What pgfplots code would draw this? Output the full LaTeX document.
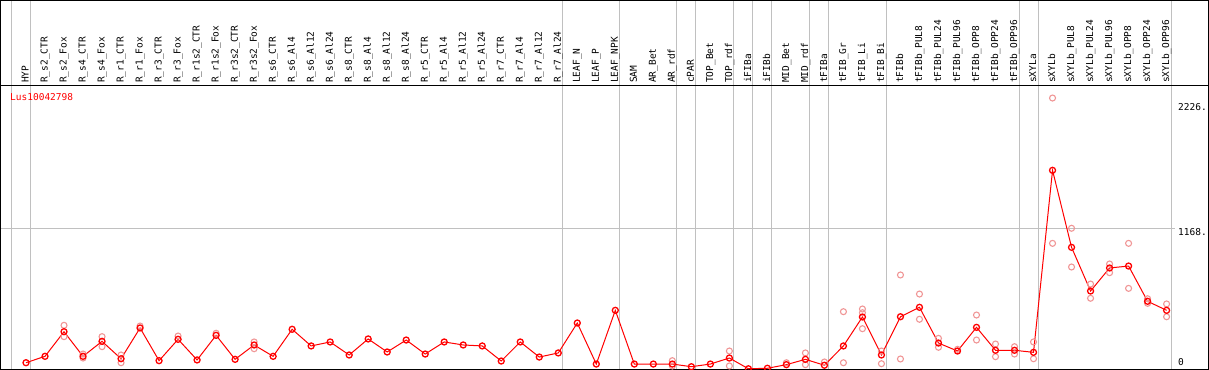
\documentclass[border=0pt]{standalone}
\usepackage{pgfplots}
\pgfplotsset{compat=1.18}
\usepackage{fontspec}
\setmainfont{DejaVu Sans Mono}
\definecolor{rep}{RGB}{240,150,150}
\definecolor{gridc}{RGB}{192,192,192}
\newcommand\lf{\fontsize{9.5bp}{11bp}\selectfont}
\newcommand\lab[2]{\node[rotate=90,anchor=west,inner sep=0pt,text height=0.75em,text depth=0.22em,font=\lf] at (axis cs:#1,2369.5) {#2};}
\begin{document}
\begin{tikzpicture}
\useasboundingbox (0,0) rectangle (1209bp,370bp);
\begin{axis}[
  at={(0,0)}, anchor=south west,
  scale only axis, width=1209bp, height=370bp,
  xmin=-1.3677, xmax=62.231, ymin=-8.3, ymax=3057.2,
  hide axis, clip=true,
]
% grid lines
\pgfplotsinvokeforeach{-0.76,0.24,28.24,31.24,34.24,35.24,37.24,38.24,39.24,41.24,42.24,45.24,52.24,53.24,60.24}{
  \draw[gridc, line width=1bp] (axis cs:#1,-100) -- (axis cs:#1,4000);
}
\draw[gridc, line width=1bp] (axis cs:-1.4,1168) -- (axis cs:60.45,1168);
% frame
\draw[black, line width=1bp] (rel axis cs:0.0004,0.00135) rectangle (rel axis cs:0.99942,0.99865);
\draw[black, line width=1bp] (rel axis cs:0,0.76757) -- (rel axis cs:1,0.76757);
% labels
\lab{0}{HYP}
\lab{1}{R\_s2\_CTR}
\lab{2}{R\_s2\_Fox}
\lab{3}{R\_s4\_CTR}
\lab{4}{R\_s4\_Fox}
\lab{5}{R\_r1\_CTR}
\lab{6}{R\_r1\_Fox}
\lab{7}{R\_r3\_CTR}
\lab{8}{R\_r3\_Fox}
\lab{9}{R\_r1s2\_CTR}
\lab{10}{R\_r1s2\_Fox}
\lab{11}{R\_r3s2\_CTR}
\lab{12}{R\_r3s2\_Fox}
\lab{13}{R\_s6\_CTR}
\lab{14}{R\_s6\_Al4}
\lab{15}{R\_s6\_Al12}
\lab{16}{R\_s6\_Al24}
\lab{17}{R\_s8\_CTR}
\lab{18}{R\_s8\_Al4}
\lab{19}{R\_s8\_Al12}
\lab{20}{R\_s8\_Al24}
\lab{21}{R\_r5\_CTR}
\lab{22}{R\_r5\_Al4}
\lab{23}{R\_r5\_Al12}
\lab{24}{R\_r5\_Al24}
\lab{25}{R\_r7\_CTR}
\lab{26}{R\_r7\_Al4}
\lab{27}{R\_r7\_Al12}
\lab{28}{R\_r7\_Al24}
\lab{29}{LEAF\_N}
\lab{30}{LEAF\_P}
\lab{31}{LEAF\_NPK}
\lab{32}{SAM}
\lab{33}{AR\_Bet}
\lab{34}{AR\_rdf}
\lab{35}{cPAR}
\lab{36}{TOP\_Bet}
\lab{37}{TOP\_rdf}
\lab{38}{iFIBa}
\lab{39}{iFIBb}
\lab{40}{MID\_Bet}
\lab{41}{MID\_rdf}
\lab{42}{tFIBa}
\lab{43}{tFIB\_Gr}
\lab{44}{tFIB\_Li}
\lab{45}{tFIB\_Bi}
\lab{46}{tFIBb}
\lab{47}{tFIBb\_PUL8}
\lab{48}{tFIBb\_PUL24}
\lab{49}{tFIBb\_PUL96}
\lab{50}{tFIBb\_OPP8}
\lab{51}{tFIBb\_OPP24}
\lab{52}{tFIBb\_OPP96}
\lab{53}{sXYLa}
\lab{54}{sXYLb}
\lab{55}{sXYLb\_PUL8}
\lab{56}{sXYLb\_PUL24}
\lab{57}{sXYLb\_PUL96}
\lab{58}{sXYLb\_OPP8}
\lab{59}{sXYLb\_OPP24}
\lab{60}{sXYLb\_OPP96}
% y tick labels
\node[anchor=west,inner sep=0pt,font=\lf] at (axis cs:60.6,2168) {2226.};
\node[anchor=west,inner sep=0pt,font=\lf] at (axis cs:60.6,1135) {1168.};
\node[anchor=west,inner sep=0pt,font=\lf] at (axis cs:60.6,55) {0};
\node[anchor=west,inner sep=0pt,font=\lf,text=red] at (axis cs:-0.842,2251) {Lus10042798};
% replicates
\addplot[only marks, mark=o, mark size=3bp, rep, line width=1.1bp] coordinates {
(2,362) (2,268) (3,124) (3,91) (4,268) (4,185) (5,52) (5,116) (6,356) (8,273) (10,296)
(12,224) (12,168) (34,69) (34,25) (37,149) (37,25) (40,52) (41,133) (41,36) (42,58)
(43,475) (43,52) (44,497) (44,466) (44,334) (45,149) (45,44) (46,779) (46,83)
(47,621) (47,412) (48,254) (48,180) (49,163) (50,447) (50,240) (51,207) (51,102)
(52,185) (52,124) (53,224) (53,85) (54,2245) (54,1041) (55,1166) (55,845)
(56,704) (56,586) (57,870) (57,798) (58,1041) (58,668) (59,582) (59,544) (60,539) (60,433)
};
% means
\addplot[red, line width=1bp, mark=o, mark size=3bp, mark options={line width=1.3bp}] coordinates {
(0,52) (1,105) (2,309) (3,105) (4,229) (5,85) (6,340) (7,69) (8,246) (9,75) (10,279)
(11,80) (12,199) (13,105) (14,329) (15,191) (16,224) (17,116) (18,249) (19,141) (20,240)
(21,124) (22,224) (23,199) (24,191) (25,66) (26,224) (27,99) (28,133) (29,381) (30,41)
(31,486) (32,41) (33,41) (34,41) (35,19) (36,41) (37,91) (38,2) (39,6) (40,36) (41,80)
(42,31) (43,191) (44,431) (45,116) (46,433) (47,511) (48,215) (49,149) (50,345) (51,155)
(52,155) (53,138) (54,1646) (55,1008) (56,646) (57,837) (58,853) (59,561) (60,486)
};
\end{axis}
\end{tikzpicture}
\end{document}
